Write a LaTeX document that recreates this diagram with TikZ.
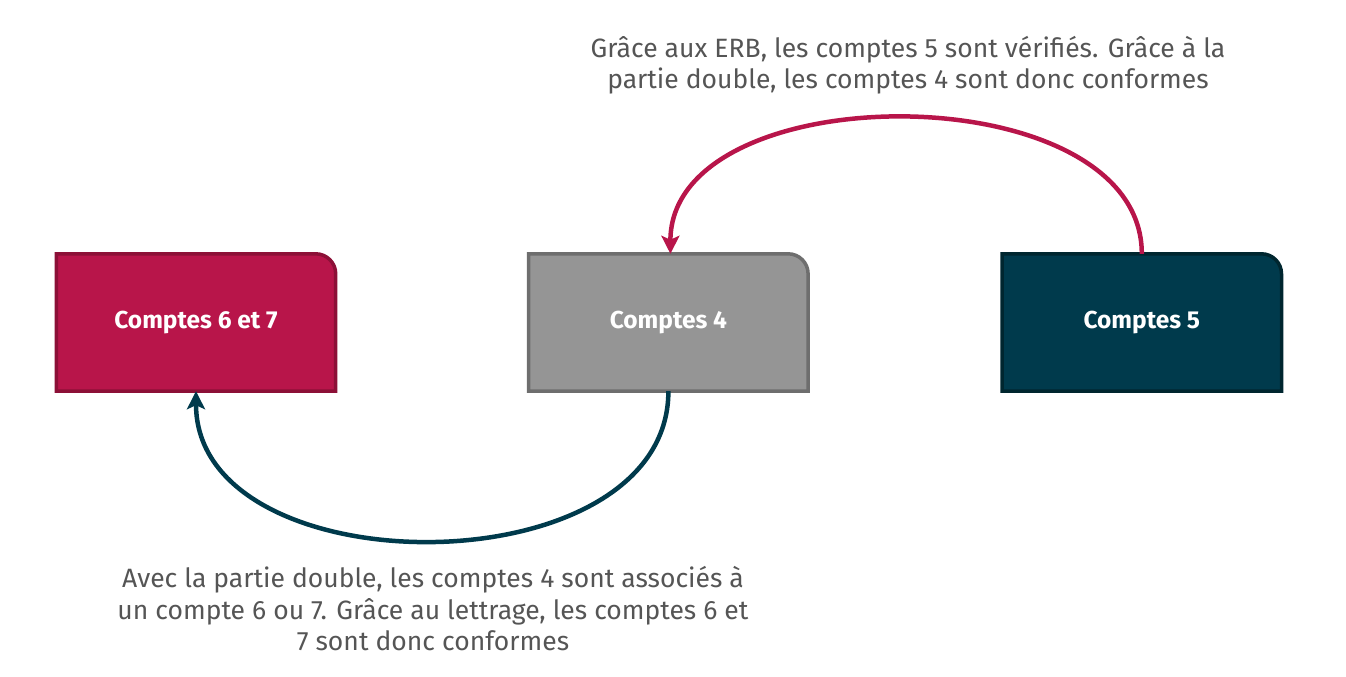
\documentclass[tikz,border=0pt]{standalone}
\usepackage{fontspec}
\setmainfont{Fira Sans}
\usetikzlibrary{positioning}
\usetikzlibrary{arrows.meta}
\usetikzlibrary{backgrounds}

\definecolor{rouge}{HTML}{B8154A}
\definecolor{rougebord}{HTML}{8C1037}
\definecolor{gris}{HTML}{959595}
\definecolor{grisbord}{HTML}{6E6E6E}
\definecolor{bleu}{HTML}{003A4C}
\definecolor{bleubord}{HTML}{00262F}
\definecolor{texte}{HTML}{555555}

\begin{document}
\begin{tikzpicture}[x=1pt,y=1pt,
	compte/.style={minimum width=279pt,minimum height=137pt,inner sep=0pt,text=white,
		font=\fontsize{24.5}{28}\selectfont\bfseries},
	note/.style={align=center,text=texte,font=\fontsize{26.5}{31.5}\selectfont},
	fleche/.style={line width=4.5pt,-{Stealth[length=18pt,width=18pt,inset=4pt]}}]
	\useasboundingbox (0,0) rectangle (1346,677);
	% les trois comptes
	\node[compte] (c67) at (196,354.5) {Comptes 6 et 7};
	\node[compte,right=193pt of c67] (c4) {Comptes 4};
	\node[compte,right=194pt of c4] (c5) {Comptes 5};
	\begin{scope}[on background layer]
		\foreach \n/\f/\b in {c67/rouge/rougebord, c4/gris/grisbord, c5/bleu/bleubord}
			\draw[line width=3.5pt,draw=\b,fill=\f] (\n.south west) -- (\n.north west)
				-- ([xshift=-20pt]\n.north east) arc[start angle=90,end angle=0,radius=20pt]
				-- (\n.south east) -- cycle;
	\end{scope}
	% textes
	\node[note] (t5) at (908,612) {Grâce aux ERB, les comptes 5 sont vérifiés. Grâce à la\\partie double, les comptes 4 sont donc conformes};
	\node[note] (t4) at (433,68) {Avec la partie double, les comptes 4 sont associés à\\un compte 6 ou 7. Grâce au lettrage, les comptes 6 et\\7 sont donc conformes};
	% fleches
	\draw[fleche,rouge] (c5.north) .. controls +(0,181) and +(0,181) .. ([xshift=2pt]c4.north);
	\draw[fleche,bleu] (c4.south) .. controls +(0,-199) and +(0,-199) .. (c67.south);
\end{tikzpicture}
\end{document}
